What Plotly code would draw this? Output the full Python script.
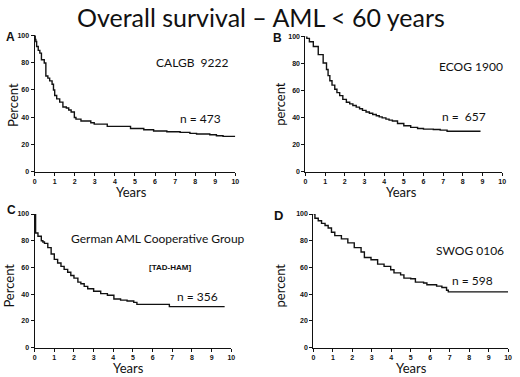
import plotly.graph_objects as go

# Panel A: CALGB 9222
t_a = [0, 0.03, 0.06, 0.1, 0.18, 0.26, 0.34, 0.48, 0.56, 0.66, 0.75, 0.87, 0.94, 1.0, 1.1, 1.25, 1.41, 1.58, 1.7, 1.82, 1.98, 2.06, 2.31, 2.8, 2.97, 3.62, 4.78, 5.44, 5.93, 6.59, 7.25, 7.74, 8.07, 8.73, 9.06, 9.39, 10.0]
s_a = [100, 97, 95.5, 91.9, 89, 87, 82.2, 79.8, 70.3, 68.7, 66.7, 64.2, 60, 55.9, 53.5, 51.1, 47.5, 46.8, 45.3, 43.9, 39.8, 38.6, 37.3, 36, 35, 33.3, 31.8, 30.8, 29.9, 29.4, 28.9, 28.2, 27.7, 27.2, 26.5, 26, 26]

# Panel B: ECOG 1900
t_b = [0, 0.07, 0.2, 0.4, 0.65, 0.9, 1.07, 1.15, 1.24, 1.35, 1.49, 1.6, 1.74, 1.9, 2.08, 2.25, 2.41, 2.58, 2.75, 2.9, 3.08, 3.25, 3.42, 3.6, 3.75, 3.9, 4.09, 4.25, 4.42, 4.68, 5.0, 5.35, 5.7, 6.0, 6.5, 6.85, 7.2, 8.9]
s_b = [100, 98.5, 96, 92.5, 86.5, 80.4, 75.6, 71, 67.2, 64, 61, 58.5, 56.3, 53.5, 51.4, 50.2, 49, 47.8, 46.6, 45.4, 44.2, 43.2, 42.3, 41.4, 40.6, 39.8, 38.9, 38.2, 37.5, 35.7, 34, 32.8, 32, 31.5, 31.3, 30.8, 30, 30]

# Panel C: German AML Cooperative Group
t_c = [0, 0.05, 0.17, 0.34, 0.42, 0.5, 0.67, 0.84, 1.0, 1.17, 1.34, 1.5, 1.68, 1.84, 2.0, 2.2, 2.35, 2.52, 2.7, 3.0, 3.36, 3.7, 4.03, 4.37, 4.7, 5.04, 5.2, 6.85, 9.66]
s_c = [100, 85.8, 83.3, 80, 79, 78, 74.8, 70, 66, 63.3, 60.8, 58.5, 56.4, 54, 52, 49, 47.8, 45.8, 44, 42.2, 40.4, 39.2, 36.3, 35.5, 34.8, 33.8, 32.3, 30.6, 30.6]

# Panel D: SWOG 0106
t_d = [0, 0.08, 0.25, 0.42, 0.6, 0.76, 0.93, 1.1, 1.44, 1.77, 2.1, 2.45, 2.62, 2.96, 3.3, 3.63, 3.97, 4.14, 4.48, 4.65, 5.0, 5.24, 5.66, 5.83, 6.33, 6.6, 6.84, 6.93, 10.0]
s_d = [100, 96.8, 95, 93, 91.4, 89.5, 86.3, 83.8, 81.4, 78.4, 74.8, 71.6, 67.4, 65.7, 62.5, 60.8, 58.3, 55.9, 54.4, 52, 51.5, 49, 48.3, 47, 46, 45, 42.9, 41.7, 41.7]

x_ticks = [0, 1, 2, 3, 4, 5, 6, 7, 8, 9, 10]
y_ticks = [0, 20, 40, 60, 80, 100]

W, H = 520, 377
def px(x):
    return x / W
def py(y):
    return 1 - y / H

panels = [
    (t_a, s_a, (33, 236), (32, 171)),
    (t_b, s_b, (307, 506), (33, 171)),
    (t_c, s_c, (33, 232), (214, 350)),
    (t_d, s_d, (315, 512), (214, 350)),
]

fig = go.Figure()
layout = {}
tickfont = dict(family="Liberation Sans", size=7, color="#111", weight="bold")
for i, (t, s, (x0, x1), (ytop, ybot)) in enumerate(panels, start=1):
    sfx = "" if i == 1 else str(i)
    fig.add_trace(go.Scatter(
        x=t, y=s, mode="lines", line=dict(shape="hv", color="#111", width=1.4),
        xaxis="x" + sfx, yaxis="y" + sfx, showlegend=False, hoverinfo="skip"))
    layout["xaxis" + sfx] = dict(
        domain=[px(x0), px(x1)], range=[0, 10], anchor="y" + sfx,
        tickvals=x_ticks, ticks="outside", ticklen=3, tickwidth=1, tickcolor="#111",
        showline=True, linecolor="#111", linewidth=1.2, showgrid=False, zeroline=False,
        tickfont=tickfont, fixedrange=True)
    layout["yaxis" + sfx] = dict(
        domain=[py(ybot), py(ytop)], range=[0, 100], anchor="x" + sfx,
        tickvals=y_ticks, ticks="outside", ticklen=3, tickwidth=1, tickcolor="#111",
        showline=True, linecolor="#111", linewidth=1.2, showgrid=False, zeroline=False,
        tickfont=tickfont, fixedrange=True)

txt_font = "Lato"
annotations = []
def ann(text, x, y, size, xanchor="center", family=txt_font, weight="normal", angle=0):
    annotations.append(dict(
        text=text, x=px(x), y=py(y), xref="paper", yref="paper",
        xanchor=xanchor, yanchor="middle", showarrow=False, textangle=angle,
        font=dict(family=family, size=size, color="#111", weight=weight)))

ann("Overall survival – AML < 60 years", 262, 13, 25)
# panel letters
ann("A", 2, 34, 12, "left", "Liberation Sans", "bold")
ann("B", 272, 35, 12, "left", "Liberation Sans", "bold")
ann("C", 3, 210, 12, "left", "Liberation Sans", "bold")
ann("D", 273, 216, 13, "left", "Liberation Sans", "bold")
# axis titles
ann("Percent", 11, 103, 13, angle=-90)
ann("percent", 281, 102, 13, angle=-90)
ann("Percent", 7, 287, 13, angle=-90)
ann("percent", 281, 287, 13, angle=-90)
ann("Years", 131, 192, 13)
ann("Years", 404, 192, 13)
ann("Years", 128, 371, 13)
ann("Years", 414, 371, 13)
# panel texts
ann("CALGB  9222", 154, 60, 12, "left")
ann("n = 473", 178, 117, 12, "left")
ann("ECOG 1900", 440, 64, 12, "left")
ann("n =  657", 443, 115, 12, "left")
ann("German AML Cooperative Group", 68, 239, 12, "left")
ann("[TAD-HAM]", 147, 268, 8, "left", "Liberation Sans", "bold")
ann("n = 356", 175, 298, 12, "left")
ann("SWOG 0106", 437, 251, 12, "left")
ann("n = 598", 453, 282, 12, "left")

fig.update_layout(
    width=W, height=H, margin=dict(l=0, r=0, t=0, b=0),
    paper_bgcolor="white", plot_bgcolor="white",
    annotations=annotations, **layout)

fig.write_html("out.html", config={"displayModeBar": False},
               post_script="document.body.style.margin='0';document.body.style.overflow='hidden';")
